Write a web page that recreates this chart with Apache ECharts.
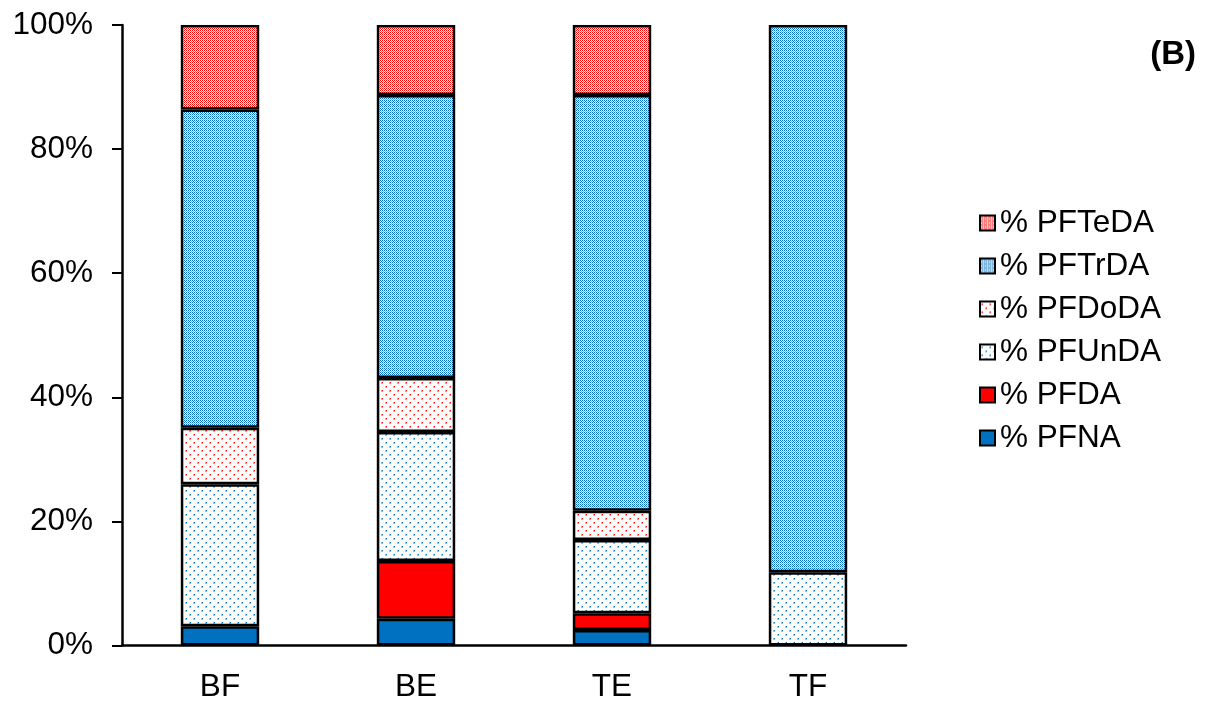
<!DOCTYPE html>
<html>
<head>
<meta charset="utf-8">
<script src="https://cdn.jsdelivr.net/npm/echarts@6/dist/echarts.min.js"></script>
<style>
  html, body { margin: 0; padding: 0; background: #fff; }
  #chart { width: 1213px; height: 704px; }
</style>
</head>
<body>
<div id="chart"></div>
<script>
// Sample sites on the x axis
const categories = ['BF', 'BE', 'TE', 'TF'];

// Percentage contribution of each compound (stack order bottom to top)
const pfna   = [3.1, 4.3, 2.5, '-'];
const pfda   = ['-', 9.3, 2.7, '-'];
const pfunda = [22.9, 20.8, 11.8, 11.8];
const pfdoda = [9.1, 8.7, 4.7, '-'];
const pftrda = [51.3, 45.6, 67.0, 88.2];
const pfteda = [13.6, 11.3, 11.3, '-'];

const yTicks = [0, 20, 40, 60, 80, 100];

const RED = '#FF0000';
const BLUE = '#0070C0';

// Fine checkerboard fill with a faint lighter grid
function checker(color) {
  const c = document.createElement('canvas');
  c.width = 4; c.height = 4;
  const g = c.getContext('2d');
  g.fillStyle = '#fff';
  g.fillRect(0, 0, 4, 4);
  g.fillStyle = color;
  for (let y = 0; y < 4; y++) {
    for (let x = 0; x < 4; x++) {
      if ((x + y) % 2 === 0) {
        g.globalAlpha = (x === 3 || y === 3) ? 0.55 : 1;
        g.fillRect(x, y, 1, 1);
      }
    }
  }
  g.globalAlpha = 1;
  return { image: c, repeat: 'repeat' };
}

// Sparse dot fill
function dots(color) {
  const c = document.createElement('canvas');
  c.width = 8; c.height = 8;
  const g = c.getContext('2d');
  g.fillStyle = '#fff';
  g.fillRect(0, 0, 8, 8);
  g.fillStyle = color;
  g.globalAlpha = 0.4;
  g.fillRect(1, 2, 2, 2);
  g.fillRect(5, 6, 2, 2);
  g.globalAlpha = 1;
  g.fillRect(2, 2, 1, 1);
  g.fillRect(6, 6, 1, 1);
  return { image: c, repeat: 'repeat' };
}

const fills = {
  '% PFNA': BLUE,
  '% PFDA': RED,
  '% PFUnDA': dots(BLUE),
  '% PFDoDA': dots(RED),
  '% PFTrDA': checker(BLUE),
  '% PFTeDA': checker(RED)
};

const border = { borderColor: '#000', borderWidth: 2.5 };

function bar(name, data) {
  return {
    name: name,
    type: 'bar',
    stack: 'total',
    barWidth: '40%',
    data: data,
    itemStyle: Object.assign({ color: fills[name] }, border),
    emphasis: { disabled: true }
  };
}

const legendOrder = ['% PFTeDA', '% PFTrDA', '% PFDoDA', '% PFUnDA', '% PFDA', '% PFNA'];

const chart = echarts.init(document.getElementById('chart'), null, { renderer: 'canvas' });

const FONT = 'Liberation Sans';

chart.setOption({
  animation: false,
  backgroundColor: '#fff',
  title: {
    text: '(B)',
    right: 12,
    top: 33,
    textStyle: { fontFamily: FONT, fontSize: 33, fontWeight: 'bold', color: '#000' }
  },
  grid: { left: 122, right: 307, top: 25, bottom: 58.5, containLabel: false },
  legend: {
    orient: 'vertical',
    left: 974,
    top: 202,
    itemWidth: 15,
    itemHeight: 15,
    itemGap: 11,
    icon: 'rect',
    data: legendOrder.map(n => ({
      name: n,
      itemStyle: { color: fills[n], borderColor: '#000', borderWidth: 2 }
    })),
    textStyle: { fontFamily: FONT, fontSize: 31.5, lineHeight: 32, color: '#000', padding: [0, 0, 0, 0] }
  },
  xAxis: {
    type: 'category',
    data: categories,
    axisLine: { lineStyle: { color: '#000', width: 2.5 } },
    axisTick: { show: false },
    axisLabel: { fontFamily: FONT, fontSize: 31.5, color: '#000', margin: 26 }
  },
  yAxis: {
    type: 'value',
    min: yTicks[0],
    max: yTicks[yTicks.length - 1],
    interval: yTicks[1] - yTicks[0],
    splitLine: { show: false },
    axisLine: { show: true, lineStyle: { color: '#000', width: 2.5 } },
    axisTick: { show: true, inside: false, length: 10, lineStyle: { color: '#000', width: 2 } },
    axisLabel: { fontFamily: FONT, fontSize: 31.5, color: '#000', margin: 29, formatter: '{value}%' }
  },
  series: [
    bar('% PFNA', pfna),
    bar('% PFDA', pfda),
    bar('% PFUnDA', pfunda),
    bar('% PFDoDA', pfdoda),
    bar('% PFTrDA', pftrda),
    bar('% PFTeDA', pfteda)
  ]
});
</script>
</body>
</html>
